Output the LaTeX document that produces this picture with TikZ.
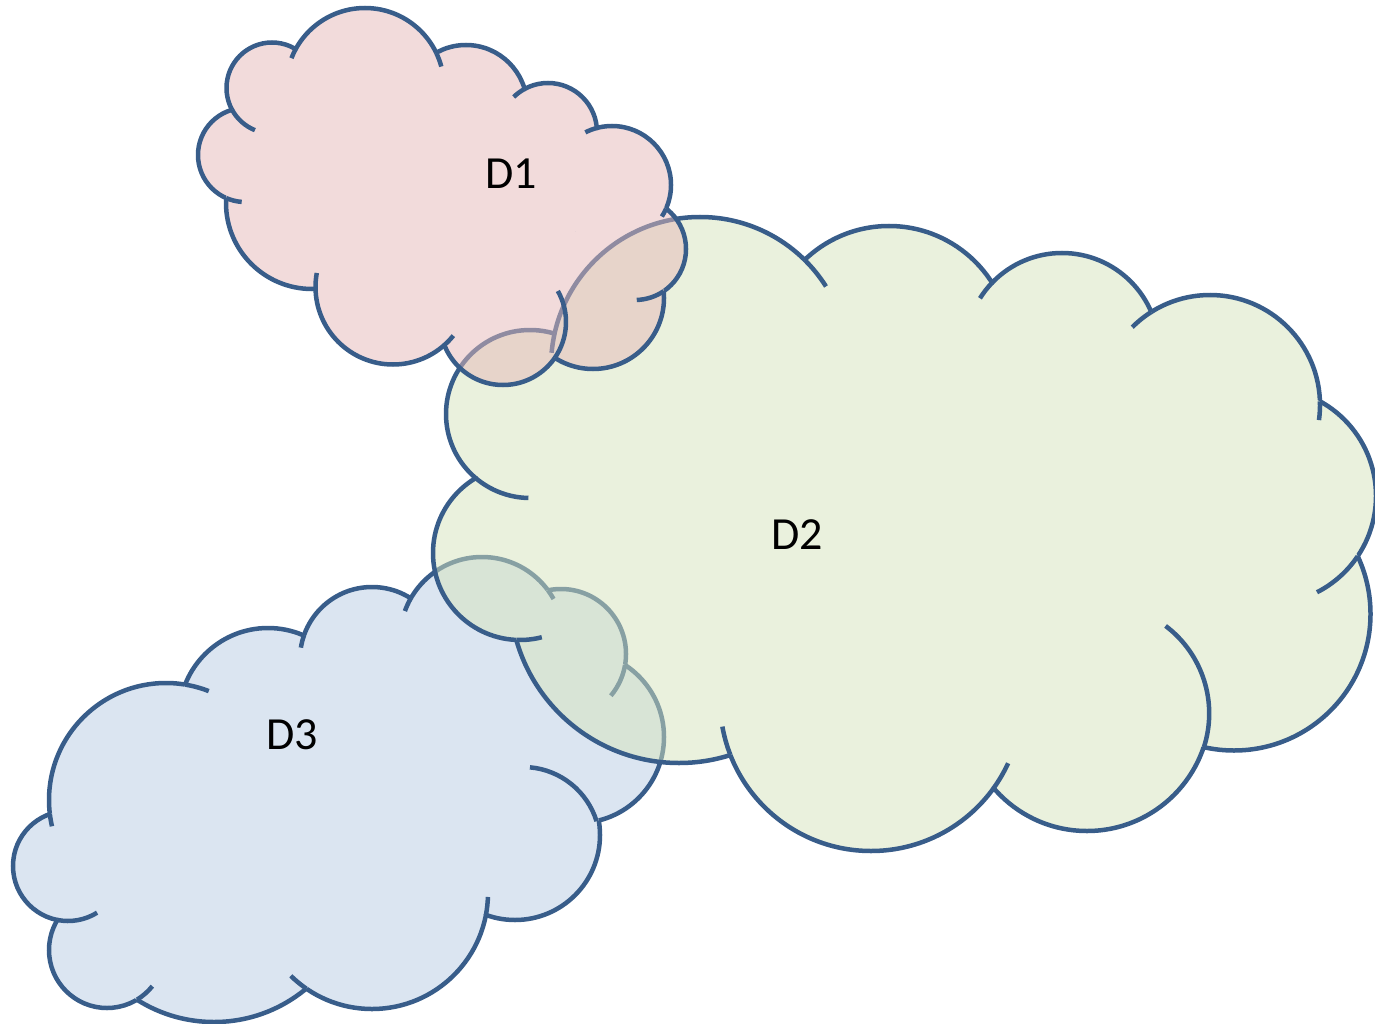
\documentclass[tikz,border=0pt]{standalone}
\usepackage{fontspec}
\setmainfont{Carlito}
\definecolor{cloudline}{RGB}{56,93,138}
\definecolor{fillA}{RGB}{230,185,184}
\definecolor{fillB}{RGB}{215,228,189}
\definecolor{fillC}{RGB}{185,205,229}
\tikzset{
  outl/.style={draw=cloudline, line width=4.5pt},
  lbl/.style={font=\fontsize{46}{55}\selectfont, text=black, inner sep=0pt}
}
\def\shp#1/#2/#3/#4\relax{(#1,#2) circle[x radius=#3, y radius=#4]}
\newcommand\drawcloud[3]{%
  \gdef\fillpath{}%
  \foreach \shA in {#1,#2}{\xdef\fillpath{\fillpath\expandafter\shp\shA\relax}}%
  \edef\tmp{\noexpand\fill[#3, fill opacity=0.5] \fillpath;}\tmp
  \foreach \shA [count=\ci] in {#1}{%
    \gdef\cliplist{}%
    \foreach \shB [count=\cj] in {#1,#2}{%
      \ifnum\ci=\cj\relax\else
        \xdef\cliplist{\unexpanded\expandafter{\cliplist}\noexpand\clip (-100,-100) rectangle (1500,1200) \expandafter\shp\shB\relax;}%
      \fi}%
    \begin{scope}[even odd rule]%
      \cliplist
      \edef\tmp{\noexpand\draw[outl] \expandafter\shp\shA\relax;}\tmp
    \end{scope}%
  }%
}
\newcommand\cloudtail[7]{%
  \pgfmathsetmacro\tsa{atan2((#5)-(#2),(#4)-(#1))}%
  \pgfmathsetmacro\tea{atan2((#7)-(#2),(#6)-(#1))}%
  \pgfmathsetmacro\tda{mod(\tea-\tsa+540,360)-180}%
  \draw[outl] ([shift={(\tsa:#3)}]#1,#2) arc[start angle=\tsa, delta angle=\tda, radius=#3];%
}
\begin{document}
\begin{tikzpicture}[x=1pt,y=-1pt]
\fill[white] (0,0) rectangle (1375,1024);
\useasboundingbox (0,0) rectangle (1375,1024);

% ---------- D3 ----------
\drawcloud{68/866/55/55,166/800/117/117,268/717/89/89,372/659/72/72,482/639/82/82,561/654/65/65,578/737/86/86,515/835/85/85,372/893/116/116,214/878/144/144,107/950/58/58}{400/780/150/100}{fillC}
\cloudtail{68}{866}{55}{57.3}{920}{100}{917.3}
\cloudtail{166}{800}{117}{49.8}{814}{65}{823.3}
\cloudtail{166}{800}{117}{185.1}{684.6}{208.3}{692.3}
\cloudtail{372}{659}{72}{303.8}{635.5}{305}{648.3}
\cloudtail{482}{639}{82}{410.8}{598.2}{406.7}{611.7}
\cloudtail{482}{639}{82}{547.9}{590.2}{551.7}{600}
\cloudtail{561}{654}{65}{625.1}{664.9}{610}{695}
\cloudtail{523}{844}{77}{598.8}{820.5}{530}{766.7}
\cloudtail{372}{893}{116}{485.9}{914.9}{480}{896.7}
\cloudtail{372}{893}{116}{306.2}{988.7}{293.3}{973.3}
\cloudtail{107}{950}{58}{137.1}{999.6}{155}{988.3}

% ---------- D2 ----------
\drawcloud{700/366/149/149,889/348/122/122,1062/350/97/97,1210/405/110/110,1268/496/108/108,1234/614/136.5/136.5,1087/708/123/123,871/700/151/151,679/594/169/169,520/553/87/87,530/414/84/84}{900/520/300/170}{fillB}
\cloudtail{700}{366}{149}{554.5}{333.6}{554}{353}
\cloudtail{700}{366}{149}{804.5}{260}{826.7}{286}
\cloudtail{1062}{350}{97}{992}{282.7}{980}{298.3}
\cloudtail{1210}{405}{110}{1151.2}{312}{1131.7}{326.7}
\cloudtail{1210}{405}{110}{1320}{401.3}{1318.3}{420}
\cloudtail{1268}{496}{108}{1357.7}{556.2}{1316.7}{591.7}
\cloudtail{1099.5}{713.5}{109.7}{1203.6}{747}{1165}{626.7}
\cloudtail{871}{700}{151}{993.6}{788.2}{1008.3}{763.3}
\cloudtail{871}{700}{151}{730.4}{755}{721.7}{726.7}
\cloudtail{520}{553}{87}{516.4}{640}{542.7}{640.7}
\cloudtail{530}{414}{84}{475.6}{478.1}{528.3}{504}

% ---------- D1 ----------
\drawcloud{365/87/79/79,466/106/61/61,548/132/49/49,612/185/59/59,635/249/51/51,593/298/71/71,503/322/63/63,393/287/77.5/77.5,312/203/86/86,245/155/47/47,272/88/45.5/45.5}{450/210/130/85}{fillA}
\cloudtail{365}{87}{79}{295.7}{49.1}{294.3}{59.3}
\cloudtail{365}{87}{79}{436.2}{52.9}{440.7}{66.7}
\cloudtail{548}{132}{49}{524.5}{89}{515}{98.3}
\cloudtail{612}{185}{59}{596.8}{128.1}{586.7}{135}
\cloudtail{612}{185}{59}{666.1}{208.6}{661}{216}
\cloudtail{635}{249}{51}{663.7}{291.1}{636.7}{298.3}
\cloudtail{503}{322}{63}{554.8}{357.9}{556}{292}
\cloudtail{393}{287}{77.5}{444.4}{345}{455}{337}
\cloudtail{393}{287}{77.5}{315.5}{288.9}{317}{273}
\cloudtail{245}{155}{47}{226.2}{198}{241.7}{201.7}
\cloudtail{272}{88}{45.5}{232.1}{109.8}{255}{130}

% ---------- labels ----------
\node[lbl] (d1) at (511,173.5) {D1};
\node[lbl] (d2) at (797.5,535) {D2};
\node[lbl] (d3) at (292.5,735) {D3};
\end{tikzpicture}
\end{document}
